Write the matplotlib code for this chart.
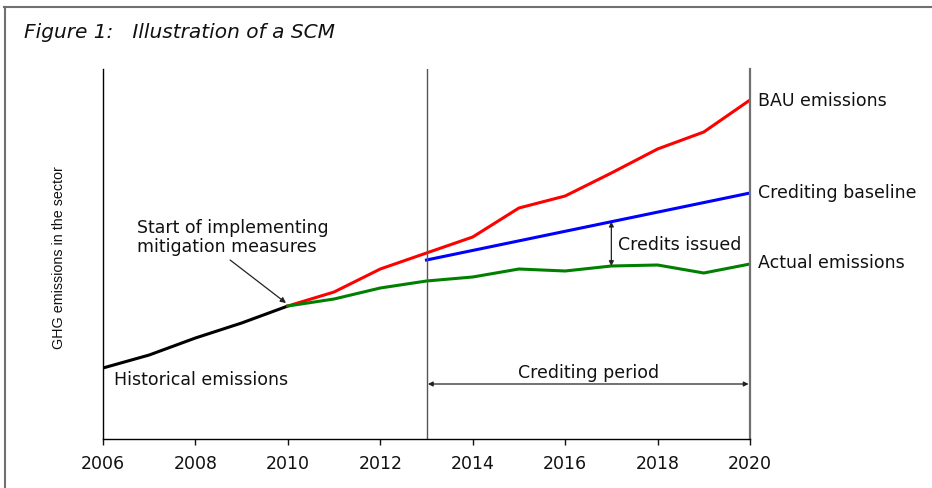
import matplotlib
matplotlib.use("Agg")
import matplotlib.pyplot as plt
from matplotlib.lines import Line2D
import numpy as np

# ---- data (arbitrary emission units) ----
hist_years = [2006, 2007, 2008, 2009, 2010]
hist_values = [71, 84, 101, 116, 133]

proj_years = [2010, 2011, 2012, 2013, 2014, 2015, 2016, 2017, 2018, 2019, 2020]
bau_values = [133, 147, 170, 186, 202, 231, 243, 266, 290, 307, 339]
actual_values = [133, 140, 151, 158, 162, 170, 168, 173, 174, 166, 175]

baseline_years = [2013, 2020]
baseline_values = [179, 246]

xticks = [2006, 2008, 2010, 2012, 2014, 2016, 2018, 2020]
credit_start, credit_end = 2013, 2020
credits_year = 2017

plt.rcParams['font.family'] = ['DejaVu Sans']
FS = 12.5
TXT = '#111111'

fig = plt.figure(figsize=(9.32, 4.89), dpi=100)
ax = fig.add_axes([103/932, 49/489, 647/932, 370/489])

# figure frame (top and left)
fig.add_artist(Line2D([4/932, 1], [1-8/489, 1-8/489], transform=fig.transFigure,
                      color='#707070', lw=1.5))
fig.add_artist(Line2D([5/932, 5/932], [0, 1-8/489], transform=fig.transFigure,
                      color='#707070', lw=1.5))

fig.text(24/932, 1-33/489, "Figure 1:   Illustration of a SCM", fontsize=14.5,
         style='italic', ha='left', va='center', color=TXT)

lw = 2.2
ax.plot(hist_years, hist_values, color='black', lw=lw, solid_capstyle='butt')
ax.plot(proj_years, bau_values, color='#ff0000', lw=lw)
ax.plot(proj_years, actual_values, color='#008000', lw=lw)
ax.plot(baseline_years, baseline_values, color='#0000ff', lw=lw)

ax.set_xlim(2006, 2020)
ax.set_ylim(0, 370)
ax.set_xticks(xticks)
ax.set_xticklabels([str(x) for x in xticks], fontsize=FS, color=TXT)
ax.set_yticks([])
for s in ['top', 'right']:
    ax.spines[s].set_visible(False)
ax.spines['left'].set_linewidth(1.0)
ax.spines['bottom'].set_linewidth(1.0)
ax.tick_params(axis='x', direction='out', length=4, width=1, pad=7, colors='#111111')

# vertical lines at crediting period start/end
ax.axvline(credit_start, color='#555555', lw=1.0)
ax.axvline(credit_end, color='#707070', lw=1.6, clip_on=False)

ax.set_ylabel("GHG emissions in the sector", family=['Liberation Sans', 'DejaVu Sans'],
              fontsize=10.3, color=TXT)
ax.yaxis.set_label_coords(-37/647, (440-258)/370)

# line labels
ax.annotate("BAU emissions", (proj_years[-1], bau_values[-1]), xytext=(8, 0),
            textcoords='offset pixels', fontsize=FS, va='center', ha='left',
            annotation_clip=False, color=TXT)
ax.annotate("Crediting baseline", (baseline_years[-1], baseline_values[-1]), xytext=(8, 1),
            textcoords='offset pixels', fontsize=FS, va='center', ha='left',
            annotation_clip=False, color=TXT)
ax.annotate("Actual emissions", (proj_years[-1], actual_values[-1]), xytext=(8, 2),
            textcoords='offset pixels', fontsize=FS, va='center', ha='left',
            annotation_clip=False, color=TXT)

ax.text(2006.24, 60, "Historical emissions", fontsize=FS, va='center', ha='left', color=TXT)

ax.text(2006.74, 202.5, "Start of implementing\nmitigation measures", fontsize=FS,
        va='center', ha='left', linespacing=1.1, color=TXT)
ax.annotate("", xy=(hist_years[-1] - 0.04, hist_values[-1] + 3), xytext=(2008.75, 179),
            arrowprops=dict(arrowstyle='-|>', color='#222222', lw=0.9,
                            mutation_scale=8, shrinkA=0, shrinkB=0))

# credits issued arrow
b_at = np.interp(credits_year, baseline_years, baseline_values)
a_at = np.interp(credits_year, proj_years, actual_values)
ax.annotate("", xy=(credits_year, b_at), xytext=(credits_year, a_at),
            arrowprops=dict(arrowstyle='<|-|>', color='#222222', lw=0.9,
                            mutation_scale=7, shrinkA=0, shrinkB=0))
ax.text(credits_year + 0.14, (b_at + a_at) / 2, "Credits issued", fontsize=FS,
        va='center', ha='left', color=TXT)

# crediting period arrow
ax.annotate("", xy=(credit_end - 0.03, 55), xytext=(credit_start + 0.03, 55),
            arrowprops=dict(arrowstyle='<|-|>', color='#222222', lw=0.9,
                            mutation_scale=7, shrinkA=0, shrinkB=0))
ax.text((credit_start + credit_end) / 2, 67, "Crediting period", fontsize=FS,
        va='center', ha='center', color=TXT)

fig.savefig("out.png", dpi=100)
